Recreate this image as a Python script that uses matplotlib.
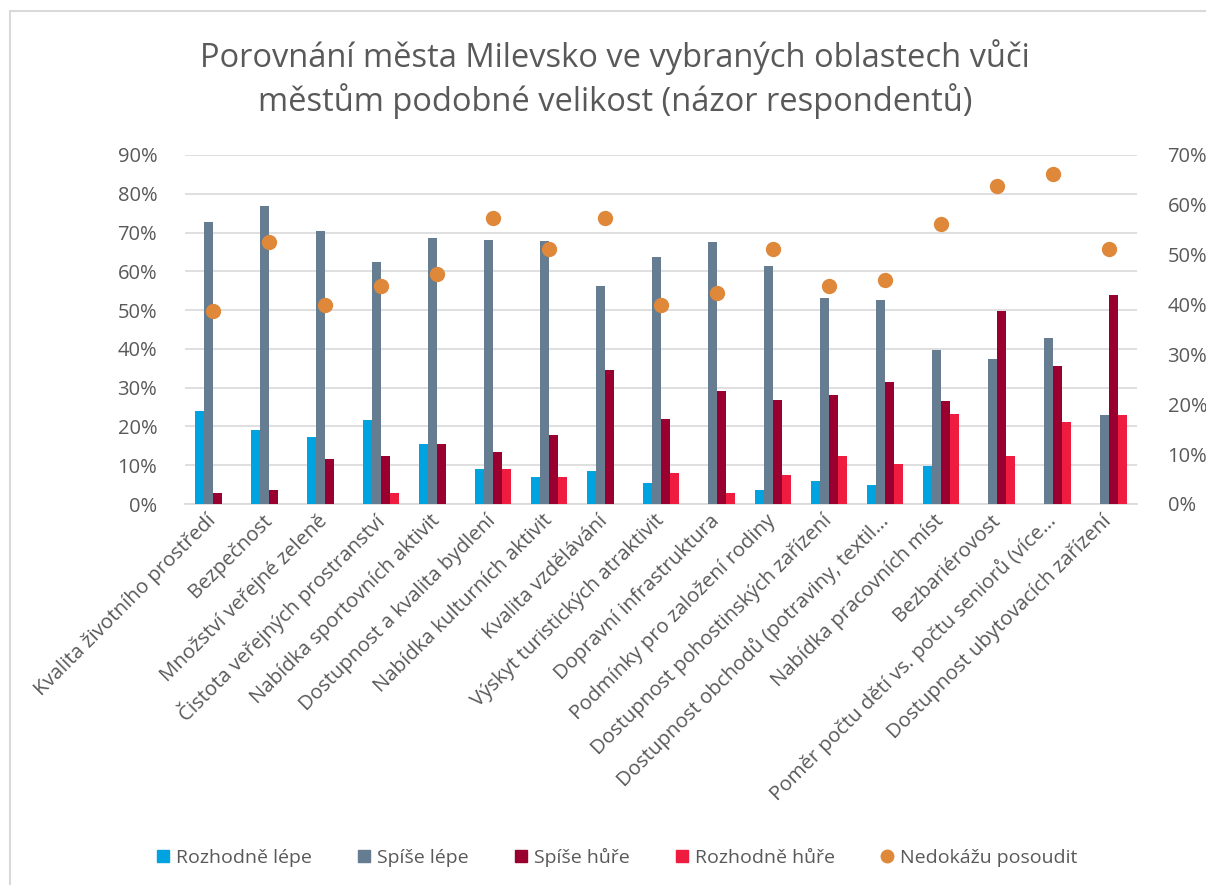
import matplotlib
matplotlib.use('Agg')
import matplotlib.pyplot as plt
import numpy as np
from matplotlib.patches import Rectangle
from matplotlib.lines import Line2D
from matplotlib.ticker import PercentFormatter, MultipleLocator

plt.rcParams['font.family'] = ['Open Sans', 'DejaVu Sans']

categories = [
    'Kvalita životního prostředí', 'Bezpečnost', 'Množství veřejné zeleně',
    'Čistota veřejných prostranství', 'Nabídka sportovních aktivit',
    'Dostupnost a kvalita bydlení', 'Nabídka kulturních aktivit',
    'Kvalita vzdělávání', 'Výskyt turistických atraktivit',
    'Dopravní infrastruktura', 'Podmínky pro založení rodiny',
    'Dostupnost pohostinských zařízení', 'Dostupnost obchodů (potraviny, textil...',
    'Nabídka pracovních míst', 'Bezbariérovost',
    'Poměr počtu dětí vs. počtu seniorů (více...', 'Dostupnost ubytovacích zařízení',
]

rozhodne_lepe = [24.0, 19.0, 17.4, 21.7, 15.4, 8.9, 6.9, 8.5, 5.3, 0.0, 3.5, 6.0, 5.0, 9.9, 0.0, 0.0, 0.0]
spise_lepe = [72.6, 76.8, 70.5, 62.3, 68.6, 68.1, 67.7, 56.3, 63.8, 67.5, 61.4, 53.0, 52.5, 39.8, 37.4, 42.7, 23.0]
spise_hure = [2.8, 3.5, 11.6, 12.3, 15.4, 13.4, 17.7, 34.6, 22.0, 29.2, 26.7, 28.0, 31.4, 26.5, 49.8, 35.5, 53.8]
rozhodne_hure = [0.0, 0.0, 0.0, 2.9, 0.0, 8.9, 6.9, 0.0, 8.1, 2.8, 7.5, 12.3, 10.3, 23.1, 12.3, 21.2, 23.0]
nedokazu = [38.7, 52.5, 39.9, 43.7, 46.1, 57.4, 51.2, 57.4, 39.9, 42.4, 51.2, 43.7, 44.9, 56.2, 63.7, 66.2, 51.2]

series = [
    ('Rozhodně lépe', rozhodne_lepe, '#00A3E0'),
    ('Spíše lépe', spise_lepe, '#657C91'),
    ('Spíše hůře', spise_hure, '#990030'),
    ('Rozhodně hůře', rozhodne_hure, '#EF1C3F'),
]
dot_color = '#E0883A'
text_color = '#595959'
grid_color = '#D9D9D9'

fig = plt.figure(figsize=(12.06, 8.85), dpi=100)
ax = fig.add_axes([185 / 1206, 1 - 504 / 885, (1137 - 185) / 1206, (504 - 155) / 885])
ax2 = ax.twinx()

x = np.arange(len(categories))
w = 0.16
for i, (name, vals, col) in enumerate(series):
    ax.bar(x + (i - 1.5) * w, vals, width=w, color=col, zorder=3)

ax2.plot(x, nedokazu, linestyle='none', marker='o', markersize=10,
         color=dot_color, markeredgecolor=dot_color, zorder=4)

ax.set_xlim(-0.5, len(categories) - 0.5)
ax.set_ylim(0, 90)
ax2.set_ylim(0, 70)
ax.yaxis.set_major_locator(MultipleLocator(10))
ax2.yaxis.set_major_locator(MultipleLocator(10))
ax.yaxis.set_major_formatter(PercentFormatter(decimals=0))
ax2.yaxis.set_major_formatter(PercentFormatter(decimals=0))

ax.grid(axis='y', color=grid_color, linewidth=1.2, zorder=0)
ax.set_axisbelow(True)
for a in (ax, ax2):
    for s in a.spines.values():
        s.set_visible(False)
    a.tick_params(length=0, labelsize=14.5, labelcolor=text_color)
ax.spines['bottom'].set_visible(True)
ax.spines['bottom'].set_color(grid_color)
ax.spines['bottom'].set_linewidth(1.2)
ax.tick_params(axis='y', pad=20)
ax2.tick_params(axis='y', pad=22)

ax.set_xticks(x)
ax.set_xticklabels(categories, rotation=45, ha='right', va='center',
                   rotation_mode='anchor', fontsize=14.7, color=text_color)
ax.tick_params(axis='x', pad=10)

fig.text(0.51, 0.911, 'Porovnání města Milevsko ve vybraných oblastech vůči\n'
         'městům podobné velikost (názor respondentů)',
         ha='center', va='center', fontsize=23.5, color=text_color, linespacing=1.29)

handles = [Line2D([], [], linestyle='none', marker='s', markersize=8, color=c,
                  label=n) for n, _, c in series]
handles.append(Line2D([], [], linestyle='none', marker='o', markersize=9,
                      color=dot_color, label='Nedokážu posoudit'))
fig.legend(handles=handles, loc='center', bbox_to_anchor=(0.512, 1 - 857 / 885),
           ncol=5, frameon=False, fontsize=14, labelcolor=text_color,
           handletextpad=0.35, columnspacing=2.4, handlelength=0.6)

fig.add_artist(Rectangle((10 / 1206, -0.05), 1.1, 1 - 11 / 885 + 0.05,
                         transform=fig.transFigure, fill=False,
                         edgecolor=grid_color, linewidth=1.5))

fig.savefig('out.png', dpi=100)
